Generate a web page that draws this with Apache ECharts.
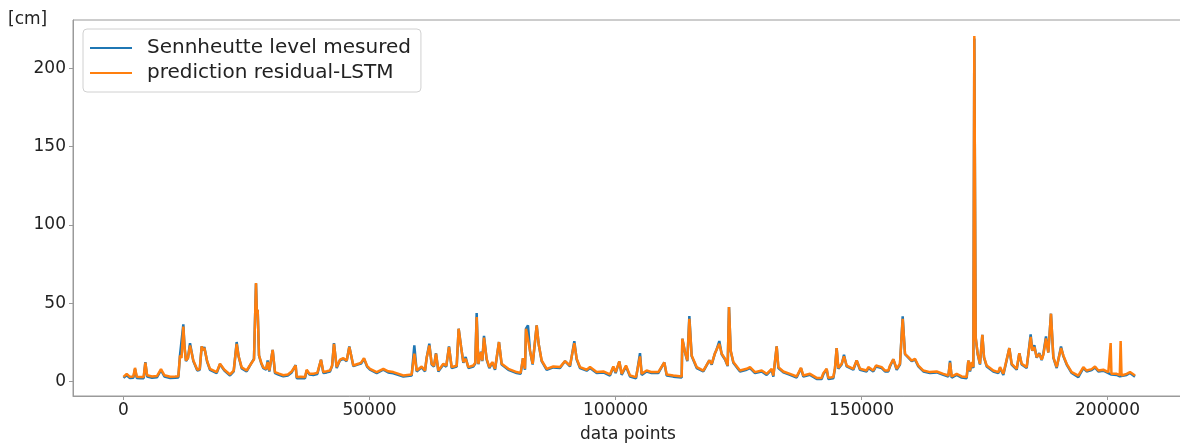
<!doctype html>
<html>
<head>
    <meta charset="utf-8">
    <title>Sennheutte level</title>
    <style>
        html, body { margin: 0; padding: 0; background: #fff; }
        #chart { width: 1180px; height: 446px; }
    </style>
</head>
<body>
<div id="chart"></div>
<script src="https://cdn.jsdelivr.net/npm/echarts@6/dist/echarts.min.js"></script>
<script>
    // sample positions (data point index)
    var pointIdx = [
        0, 650, 1300, 2000, 2340, 2700, 3500, 4100, 4440, 4800,
        5800, 6800, 7620, 8300, 9500, 10500, 11150, 11480, 11800, 12160,
        12400, 12700, 13100, 13520, 14190, 15000, 15500, 15890, 16150, 16430,
        17000, 17580, 18940, 19610, 20500, 21650, 22400, 23000, 23400, 24020,
        25030, 26050, 26520, 26930, 27100, 27270, 27540, 28000, 28420, 29000,
        29300, 29640, 30000, 30320, 30790, 31600, 32490, 33400, 34180, 34990,
        35200, 36000, 36890, 37230, 37800, 38580, 39400, 40140, 40620, 41300,
        41970, 42400, 42780, 43330, 44000, 44680, 45360, 45900, 46710, 47730,
        48300, 48880, 49500, 50100, 51460, 52810, 53800, 54840, 56880, 58570,
        59110, 59590, 60600, 61280, 61620, 62160, 62640, 63100, 63520, 63990,
        65010, 65600, 66160, 66700, 67720, 68120, 68600, 69070, 69550, 70090,
        71100, 71500, 71780, 72120, 72660, 72930, 73270, 73810, 74360, 74970,
        75510, 76320, 76860, 78220, 79910, 80720, 81200, 81600, 81810, 82210,
        82620, 83160, 83980, 84380, 84990, 86010, 87360, 88720, 89740, 90750,
        91630, 92110, 92780, 94140, 94820, 96170, 97530, 98880, 99560, 100030,
        100780, 101250, 102130, 102950, 104170, 104980, 105320, 106330, 107350, 108700,
        109920, 110400, 111750, 113450, 113580, 114130, 114600, 115010, 115480, 116500,
        117850, 119070, 119550, 120220, 120560, 121100, 121580, 122260, 122800, 123070,
        123410, 123950, 125300, 126660, 127340, 128350, 129710, 130720, 131740, 132080,
        132760, 133100, 134110, 135470, 136820, 137700, 138180, 139530, 140890, 141900,
        142240, 142920, 143260, 144270, 144610, 144950, 145290, 145970, 146440, 146980,
        148340, 149020, 149690, 151050, 151390, 152400, 152950, 154100, 154780, 155450,
        155790, 156470, 157150, 157820, 158370, 158840, 159520, 160200, 160870, 161550,
        162570, 163920, 165280, 166630, 167650, 167990, 168330, 169340, 170360, 171370,
        171710, 172050, 172390, 172730, 172930, 173200, 173610, 174080, 174560, 174900,
        175440, 176790, 177810, 178150, 178830, 180050, 180520, 181540, 182080, 182550,
        183570, 184380, 184720, 185130, 185600, 186140, 186620, 186960, 187500, 187970,
        188510, 188990, 189670, 190550, 191020, 191700, 192720, 194070, 195090, 195760,
        196780, 197460, 198140, 199150, 200170, 200500, 200640, 200800, 201860, 202500,
        202670, 202850, 203890, 204570, 205590
    ];

    // Sennheutte level mesured [cm]
    var measured = [
        2.3, 4.0, 2.2, 2.4, 8.0, 2.2, 2.0, 2.1, 12.4, 3.2,
        2.4, 2.7, 7.2, 3.2, 2.2, 2.4, 2.6, 16.6, 15.5, 36.5,
        22.5, 13.0, 15.0, 24.5, 13.0, 7.0, 7.5, 22.4, 20.0, 22.0,
        12.6, 7.4, 5.3, 11.0, 7.0, 3.8, 6.5, 25.2, 16.0, 8.4,
        6.4, 12.0, 14.5, 62.5, 44.0, 45.8, 16.6, 11.5, 8.5, 7.5,
        13.4, 6.4, 6.0, 20.2, 5.4, 4.3, 3.3, 3.8, 5.8, 10.5,
        2.1, 2.3, 2.1, 7.0, 4.4, 4.2, 4.8, 13.9, 5.4, 5.8,
        6.4, 10.0, 24.5, 8.6, 13.5, 14.5, 13.0, 22.4, 9.8, 11.0,
        11.5, 14.5, 9.5, 7.5, 5.4, 7.5, 5.8, 5.3, 3.2, 3.8,
        23.0, 6.4, 9.0, 6.4, 15.2, 24.1, 10.8, 9.5, 18.0, 6.4,
        10.8, 9.5, 22.4, 8.6, 9.5, 33.7, 22.4, 12.0, 15.6, 8.6,
        9.6, 11.5, 43.7, 11.0, 19.0, 13.0, 29.2, 14.0, 8.6, 12.0,
        7.5, 25.2, 10.8, 7.5, 5.4, 4.9, 14.9, 7.5, 33.7, 35.8,
        19.5, 10.8, 35.8, 24.0, 13.0, 7.5, 9.0, 8.6, 13.0, 9.6,
        25.8, 14.0, 8.6, 6.9, 8.6, 5.4, 5.8, 3.8, 9.2, 5.4,
        12.8, 4.2, 9.6, 3.1, 2.0, 18.1, 4.2, 6.4, 5.4, 5.4,
        12.2, 3.8, 3.1, 2.5, 27.3, 18.5, 13.0, 41.8, 16.2, 8.6,
        6.4, 13.5, 10.8, 18.1, 20.5, 25.8, 17.4, 14.0, 9.8, 47.5,
        19.5, 12.0, 6.4, 7.5, 8.6, 5.4, 6.4, 4.2, 7.5, 3.1,
        22.4, 8.6, 5.8, 4.2, 2.5, 8.4, 3.1, 4.2, 1.6, 1.6,
        4.6, 7.8, 1.6, 2.1, 8.2, 21.3, 8.2, 10.8, 17.1, 9.6,
        7.5, 13.4, 7.5, 6.4, 8.6, 6.4, 9.6, 8.6, 6.4, 6.4,
        9.6, 14.2, 7.5, 10.8, 41.6, 17.4, 15.2, 13.0, 14.0, 9.6,
        6.4, 5.4, 5.8, 4.2, 3.1, 13.2, 2.5, 4.2, 2.5, 2.1,
        13.4, 6.4, 12.0, 8.6, 219.0, 28.4, 17.4, 10.8, 29.8, 15.2,
        9.6, 6.4, 5.4, 8.6, 4.2, 21.3, 10.8, 7.5, 18.1, 10.8,
        8.6, 30.1, 19.5, 23.2, 15.2, 18.1, 13.6, 17.7, 28.8, 18.5,
        43.3, 15.2, 8.6, 22.4, 16.2, 10.8, 5.4, 2.8, 8.6, 6.4,
        7.3, 9.0, 6.4, 6.9, 5.4, 4.9, 5.0, 4.4, 4.2, 3.3,
        3.5, 3.1, 4.2, 5.4, 3.1
    ];

    // prediction residual-LSTM [cm]
    var predicted = [
        3.0, 4.9, 3.0, 3.2, 8.7, 3.0, 2.8, 2.9, 12.0, 4.0,
        3.2, 3.5, 7.9, 4.0, 3.0, 3.2, 3.4, 16.6, 15.0, 35.0,
        22.0, 13.4, 15.0, 23.0, 13.4, 7.5, 8.0, 22.4, 20.0, 21.5,
        13.0, 8.0, 6.0, 11.3, 7.5, 4.5, 7.0, 24.0, 16.0, 9.0,
        7.0, 12.0, 14.0, 62.9, 44.0, 45.8, 16.6, 12.0, 9.0, 8.0,
        12.5, 7.0, 6.5, 20.2, 6.0, 5.0, 4.0, 4.5, 6.4, 10.2,
        2.8, 3.0, 2.8, 7.5, 5.0, 4.9, 5.5, 13.9, 6.0, 6.5,
        7.0, 10.0, 24.0, 9.2, 13.9, 14.9, 13.4, 22.0, 10.2, 11.3,
        12.0, 14.9, 10.0, 8.1, 6.0, 8.1, 6.5, 6.0, 3.8, 4.5,
        17.7, 7.0, 9.6, 7.0, 15.2, 23.0, 11.3, 10.0, 17.8, 7.0,
        11.3, 10.0, 22.0, 9.2, 10.0, 33.7, 22.4, 12.4, 14.5, 9.2,
        10.2, 12.0, 41.1, 11.3, 18.8, 13.4, 28.0, 14.5, 9.2, 12.4,
        8.1, 25.2, 11.3, 8.1, 6.0, 5.5, 14.9, 8.1, 33.7, 34.0,
        19.8, 11.3, 35.8, 24.0, 13.4, 8.1, 9.6, 9.2, 13.0, 10.2,
        24.5, 14.5, 9.2, 7.5, 9.2, 6.0, 6.4, 4.5, 9.6, 6.0,
        12.8, 4.9, 10.2, 3.8, 2.8, 16.0, 4.9, 7.0, 6.0, 6.0,
        12.2, 4.5, 3.8, 3.2, 27.3, 18.8, 13.4, 40.0, 16.6, 9.2,
        7.0, 13.5, 11.3, 18.1, 20.5, 24.0, 17.7, 14.5, 10.2, 47.5,
        19.8, 12.4, 7.0, 8.1, 9.2, 6.0, 7.0, 4.9, 8.1, 3.8,
        22.4, 9.2, 6.4, 4.9, 3.2, 8.7, 3.8, 4.9, 2.3, 2.3,
        5.3, 8.1, 2.3, 2.8, 8.7, 21.3, 8.7, 11.3, 16.0, 10.2,
        8.1, 13.4, 8.1, 7.0, 9.2, 7.0, 10.2, 9.2, 7.0, 7.0,
        10.2, 14.2, 8.1, 11.3, 40.0, 17.7, 15.6, 13.4, 14.5, 10.2,
        7.0, 6.0, 6.4, 4.9, 3.8, 12.0, 3.2, 4.9, 3.2, 2.8,
        13.4, 7.0, 12.4, 9.2, 220.7, 28.4, 17.7, 11.3, 29.8, 15.6,
        10.2, 7.0, 6.0, 9.2, 4.9, 21.3, 11.3, 8.1, 18.1, 11.3,
        9.2, 28.5, 19.8, 22.0, 15.6, 17.5, 14.0, 17.0, 27.5, 18.5,
        43.3, 15.6, 9.2, 21.3, 16.6, 11.3, 6.0, 3.8, 9.2, 7.0,
        7.9, 9.6, 7.0, 7.5, 6.0, 5.5, 24.5, 5.0, 4.9, 4.0,
        25.8, 3.8, 4.9, 6.0, 3.8
    ];

    var xTicks = [0, 50000, 100000, 150000, 200000];
    var yTicks = [0, 50, 100, 150, 200];

    function pairs(vals) {
        return pointIdx.map(function (x, i) { return [x, vals[i]]; });
    }

    var chart = echarts.init(document.getElementById('chart'));
    var font = 'DejaVu Sans';
    var spine = '#9a9a9a';

    var option = {
        animation: false,
        textStyle: { fontFamily: font },
        title: {
            text: '[cm]',
            left: 3,
            top: 6,
            textStyle: { fontFamily: font, fontSize: 17, fontWeight: 'normal', color: '#222' }
        },
        legend: {
            left: 83,
            top: 29,
            orient: 'vertical',
            icon: 'rect',
            itemWidth: 42,
            itemHeight: 2,
            itemGap: 5,
            padding: [9, 10, 9, 7],
            backgroundColor: 'rgba(255,255,255,0.85)',
            borderColor: '#d0d0d0',
            borderWidth: 1,
            borderRadius: 4,
            textStyle: { fontFamily: font, fontSize: 20, lineHeight: 20, color: '#222', padding: [0, 0, 0, 10] },
            data: ['Sennheutte level mesured', 'prediction residual-LSTM']
        },
        grid: {
            left: 73,
            right: -3,
            top: 20,
            bottom: 50,
            outerBoundsMode: 'none',
            containLabel: false,
            show: true,
            borderColor: spine,
            borderWidth: 1
        },
        xAxis: {
            type: 'value',
            min: -10264,
            max: 215345,
            name: 'data points',
            nameLocation: 'middle',
            nameGap: 30,
            nameTextStyle: { fontFamily: font, fontSize: 17, color: '#222' },
            axisLine: { show: true, onZero: false, lineStyle: { color: spine, width: 1 } },
            axisTick: { show: true, length: 4, customValues: xTicks, lineStyle: { color: spine } },
            axisLabel: {
                customValues: xTicks, margin: 6, fontSize: 17, color: '#222', fontFamily: font,
                formatter: function (v) { return String(v); }
            },
            splitLine: { show: false }
        },
        yAxis: {
            type: 'value',
            min: -9.27,
            max: 230.9,
            axisLine: { show: true, onZero: false, lineStyle: { color: spine, width: 1 } },
            axisTick: { show: true, length: 4, customValues: yTicks, lineStyle: { color: spine } },
            axisLabel: {
                customValues: yTicks, margin: 7, fontSize: 17, color: '#222', fontFamily: font,
                formatter: function (v) { return String(v); }
            },
            splitLine: { show: false }
        },
        series: [
            {
                name: 'Sennheutte level mesured',
                type: 'line',
                data: pairs(measured),
                showSymbol: false,
                symbol: 'none',
                color: '#1f77b4',
                lineStyle: { width: 2.5, color: '#1f77b4' },
                z: 2
            },
            {
                name: 'prediction residual-LSTM',
                type: 'line',
                data: pairs(predicted),
                showSymbol: false,
                symbol: 'none',
                color: '#ff7f0e',
                lineStyle: { width: 2.5, color: '#ff7f0e' },
                z: 3
            }
        ]
    };
    chart.setOption(option);
</script>
</body>
</html>
